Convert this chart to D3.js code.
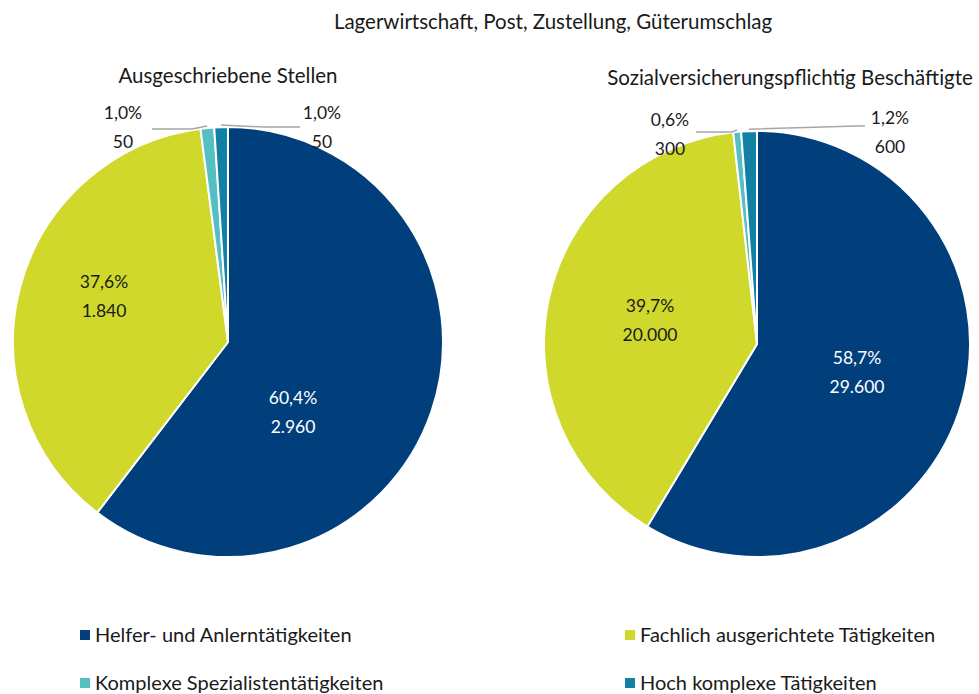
<!DOCTYPE html>
<html>
<head>
<meta charset="utf-8">
<script src="https://cdn.jsdelivr.net/npm/d3@7"></script>
<style>
  body { margin: 0; background: #fff; }
  text { font-family: "Lato", "Open Sans", sans-serif; fill: #1a1a1a; }
</style>
</head>
<body>
<div id="chart"></div>
<script>
// categories and series
var categories = ['Helfer- und Anlerntätigkeiten', 'Fachlich ausgerichtete Tätigkeiten',
                  'Komplexe Spezialistentätigkeiten', 'Hoch komplexe Tätigkeiten'];
var colors = ['#013f7c', '#d0d82c', '#55bfc4', '#127fa4'];
var stellen = [2960, 1840, 50, 50];
var stellenPct = ['60,4%', '37,6%', '1,0%', '1,0%'];
var beschaeftigte = [29600, 20000, 300, 600];
var beschaeftigtePct = ['58,7%', '39,7%', '0,6%', '1,2%'];

var width = 979, height = 694;
var svg = d3.select('#chart').append('svg')
  .attr('width', width).attr('height', height);

svg.append('text')
  .attr('x', 553).attr('y', 29)
  .attr('text-anchor', 'middle')
  .style('font-size', '20.5px')
  .text('Lagerwirtschaft, Post, Zustellung, Güterumschlag');

var fmt = d3.formatLocale({decimal: ',', thousands: '.', grouping: [3]}).format(',');

// label positions relative to pie centre (in px) -- small slices get leader lines
function drawPie(opts) {
  var g = svg.append('g')
    .attr('transform', 'translate(' + opts.cx + ',' + opts.cy + ')');

  svg.append('text')
    .attr('x', opts.titleX).attr('y', opts.titleY)
    .attr('text-anchor', 'middle')
    .style('font-size', '20.5px')
    .text(opts.title);

  var pie = d3.pie().sort(null).value(function(d) { return d; });
  var arc = d3.arc().innerRadius(0).outerRadius(opts.r);
  var arcs = pie(opts.values);

  g.selectAll('path.slice')
    .data(arcs)
    .enter().append('path')
    .attr('class', 'slice')
    .attr('d', arc)
    .style('fill', function(d, i) { return colors[i]; })
    .style('stroke', '#fff')
    .style('stroke-width', 2);

  arcs.forEach(function(a, i) {
    var lp = opts.labels[i];
    if (lp.line) {
      var mid = (a.startAngle + a.endAngle) / 2;
      var ex = Math.sin(mid) * (opts.r + 2), ey = -Math.cos(mid) * (opts.r + 2);
      g.append('polyline')
        .attr('points', [[ex, ey], lp.line, [lp.line[0] + lp.lineDir, lp.line[1]]]
          .map(function(p) { return p.join(','); }).join(' '))
        .style('fill', 'none')
        .style('stroke', '#a6a6a6')
        .style('stroke-width', 1.5);
    }
    var t = g.append('text')
      .attr('text-anchor', 'middle')
      .style('font-size', '17.5px')
      .style('fill', i === 0 ? '#fff' : '#1a1a1a');
    t.append('tspan').attr('x', lp.x).attr('y', lp.y).text(opts.pct[i]);
    t.append('tspan').attr('x', lp.x).attr('y', lp.y + 29).text(fmt(opts.values[i]));
  });
}

drawPie({
  cx: 228, cy: 342, r: 215,
  title: 'Ausgeschriebene Stellen', titleX: 228, titleY: 83,
  values: stellen, pct: stellenPct,
  labels: [
    {x: 65, y: 62},
    {x: -124, y: -54},
    {x: -105, y: -223, line: [-36, -213], lineDir: -40},
    {x: 94, y: -223, line: [36, -215], lineDir: 36}
  ]
});

drawPie({
  cx: 757, cy: 344, r: 213,
  title: 'Sozialversicherungspflichtig Beschäftigte', titleX: 790, titleY: 85,
  values: beschaeftigte, pct: beschaeftigtePct,
  labels: [
    {x: 100, y: 20},
    {x: -107, y: -32},
    {x: -87, y: -218, line: [-25, -212], lineDir: -36},
    {x: 133, y: -220, line: [100, -218], lineDir: 8}
  ]
});

// legend
var legend = [
  {x: 80, y: 635}, {x: 625, y: 635},
  {x: 80, y: 683}, {x: 625, y: 683}
];
categories.forEach(function(c, i) {
  var p = legend[i];
  svg.append('rect')
    .attr('x', p.x).attr('y', p.y - 5)
    .attr('width', 10).attr('height', 10)
    .style('fill', colors[i]);
  svg.append('text')
    .attr('x', p.x + 15).attr('y', p.y + 7)
    .style('font-size', '20px')
    .text(c);
});
</script>
</body>
</html>
